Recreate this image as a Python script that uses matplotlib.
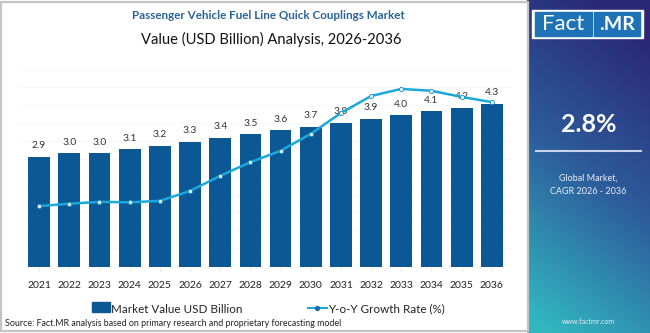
import numpy as np
import matplotlib
matplotlib.use("Agg")
import matplotlib.pyplot as plt
from matplotlib.patches import Rectangle
from matplotlib.lines import Line2D

plt.rcParams['font.family'] = ['Lato', 'DejaVu Sans']

years = ['2021', '2022', '2023', '2024', '2025', '2026', '2027', '2028',
         '2029', '2030', '2031', '2032', '2033', '2034', '2035', '2036']
market_value = [2.9, 3.0, 3.0, 3.1, 3.2, 3.3, 3.4, 3.5,
                3.6, 3.7, 3.8, 3.9, 4.0, 4.1, 4.2, 4.3]
yoy_growth = [2.50, 2.55, 2.59, 2.58, 2.61, 2.82, 3.14, 3.43,
              3.67, 4.03, 4.47, 4.83, 4.98, 4.94, 4.81, 4.70]

bar_color = '#0b5895'
line_color = '#1ba8dc'

fig = plt.figure(figsize=(6.5, 3.33), dpi=100)

# outer frame of the chart area
fig.patches.append(Rectangle((0.002, 0.005), 0.81, 0.99, transform=fig.transFigure,
                             fill=False, edgecolor='#c4c4c4', lw=1.6))

ax = fig.add_axes([0.0277, 0.198, 0.7615, 0.6216])
x = np.arange(len(years))
ax.bar(x, market_value, width=0.72, color=bar_color, zorder=2)
for xi, v in zip(x, market_value):
    ax.text(xi, v + 0.17, f'{v:.1f}', ha='center', va='bottom', fontsize=7.4, color='#333333', zorder=5)
ax.set_xlim(-0.7, 15.7)
ax.set_ylim(0, 5.45)
ax.set_yticks(np.arange(0.5, 5.5, 0.47))
ax.grid(axis='y', color='#f5f5f5', lw=0.5, zorder=0)
ax.set_yticklabels([])
ax.tick_params(axis='y', length=0)
ax.set_xticks(x)
ax.set_xticklabels(years, fontsize=7.5, color='#222222')
ax.tick_params(axis='x', length=3, color='#ececec', pad=7)
for s in ax.spines.values():
    s.set_visible(False)

ax2 = ax.twinx()
ax2.plot(x, yoy_growth, color=line_color, lw=1.8, marker='o', ms=3,
         mfc='#e9f6fc', mec='#1b8fc2', mew=0.6, zorder=4)
ax2.set_ylim(1.21, 5.59)
ax2.axis('off')

# titles
fig.text(0.413, 0.952, 'Passenger Vehicle Fuel Line Quick Couplings Market', ha='center', va='center',
         fontsize=8.4, fontweight='bold', color='#2c6496')
fig.text(0.417, 0.88, 'Value (USD Billion) Analysis, 2026-2036', ha='center', va='center',
         fontsize=10.6, color='#111111')

# legend
fig.patches.append(Rectangle((0.142, 0.064), 0.027, 0.03, transform=fig.transFigure,
                             color=bar_color))
fig.text(0.17, 0.072, 'Market Value USD Billion', va='center', fontsize=8.4, color='#222222')
fig.lines.append(Line2D([0.474, 0.488, 0.503], [0.075, 0.075, 0.075], transform=fig.transFigure,
                        color=line_color, lw=1.5, marker='o', ms=2.8, markevery=[1],
                        mfc='#1b6fa8', mec='#1b6fa8'))
fig.text(0.504, 0.072, 'Y-o-Y Growth Rate (%)', va='center', fontsize=8.4, color='#222222')

fig.text(0.008, 0.028, 'Source: Fact.MR analysis based on primary research and proprietary forecasting model',
         va='center', fontsize=6.4, color='#222222')

# side panel with gradient
pax = fig.add_axes([0.811, 0.0, 0.189, 1.0])
gy, gx = np.mgrid[0:1:200j, 0:1:60j]
t = np.clip(gy * 0.9 + (1 - gx) * 0.25 - 0.1, 0, 1)
top = np.array([0x2a, 0x27, 0x75]) / 255
mid = np.array([0x2d, 0x5d, 0x9b]) / 255
bot = np.array([0x32, 0xb6, 0xc0]) / 255
tt = t[..., None]
img = np.where(tt < 0.5, top + (mid - top) * (tt / 0.5), mid + (bot - mid) * ((tt - 0.5) / 0.5))
pax.imshow(img, aspect='auto', extent=[0, 1, 1, 0])
pax.set_xlim(0, 1)
pax.set_ylim(1, 0)
pax.axis('off')

# logo
pax.add_patch(Rectangle((0.04, 0.03), 0.9, 0.085, color='white'))
pax.add_patch(Rectangle((0.065, 0.037), 0.46, 0.071, color='#1d73b6'))
pax.add_patch(Rectangle((0.545, 0.037), 0.375, 0.071, color='#1d73b6'))
pax.text(0.295, 0.073, 'Fact', ha='center', va='center', fontsize=16, color='white')
pax.text(0.735, 0.073, '.MR', ha='center', va='center', fontsize=14, color='white', fontweight='bold')

pax.text(0.5, 0.375, '2.8%', ha='center', va='center', fontsize=18, color='white', fontweight='bold')
pax.plot([0.07, 0.93], [0.453, 0.453], color='#c9d3ea', lw=1.5)
pax.text(0.5, 0.535, 'Global Market,', ha='center', va='center', fontsize=6.5, color='#e8ecf5')
pax.text(0.5, 0.574, 'CAGR 2026 - 2036', ha='center', va='center', fontsize=6.5, color='#e8ecf5')
pax.text(0.5, 0.965, 'www.factmr.com', ha='center', va='center', fontsize=5, color='#e8ecf5')

fig.savefig('out.png', dpi=100)
